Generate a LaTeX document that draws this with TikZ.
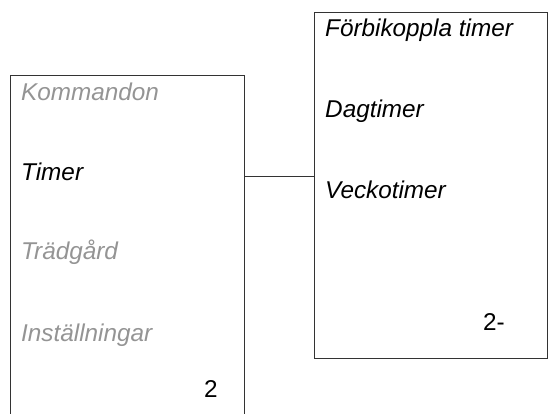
\documentclass[tikz,border=0pt]{standalone}
\usepackage{fontspec}
\setmainfont{Liberation Sans}
\usetikzlibrary{positioning}

\tikzset{
  menyrad/.style={anchor=base west, inner sep=0pt, font=\fontsize{24.3}{28}\selectfont\itshape},
  sidnr/.style={anchor=base west, inner sep=0pt, font=\fontsize{24.3}{28}\selectfont},
  gra/.style={text=black!42},
  ram/.style={draw=black!80, line width=0.9pt}
}

\begin{document}
\begin{tikzpicture}[x=1pt,y=-1pt]
        \useasboundingbox (0,0) rectangle (548,414);
        % vänster meny (går ut under bildens kant)
        \coordinate (LA) at (10,414);
        \coordinate (LB) at (10,75);
        \coordinate (LC) at (244,75);
        \coordinate (LD) at (244,414);
        \draw[ram] (LA) -- (LB) -- (LC) -- (LD);
        \node[menyrad,gra] (kommandon) at (21,100.5) {Kommandon};
        \node[menyrad] (timer) at (21,180) {Timer};
        \node[menyrad,gra] (tradgard) at (21,259.5) {Trädgård};
        \node[menyrad,gra] (installningar) at (21,341) {Inställningar};
        \node[sidnr] (sida1) at (204,397) {2};
        % höger meny
        \coordinate (RA) at (314,12);
        \coordinate (RB) at (547,12);
        \coordinate (RC) at (547,358);
        \coordinate (RD) at (314,358);
        \draw[ram] (RA) -- (RB) -- (RC) -- (RD) -- cycle;
        \node[menyrad] (forbikoppla) at (325,36.5) {Förbikoppla timer};
        \node[menyrad] (dagtimer) at (325,118) {Dagtimer};
        \node[menyrad] (veckotimer) at (325,198) {Veckotimer};
        \node[sidnr] (sida2) at (483,330) {2-};
        %  förbindelse Timer -> undermeny
        \coordinate (ut) at (244,176);
        \coordinate (in) at (314,176);
        \draw[ram] (ut) -- (in);
\end{tikzpicture}
\end{document}
